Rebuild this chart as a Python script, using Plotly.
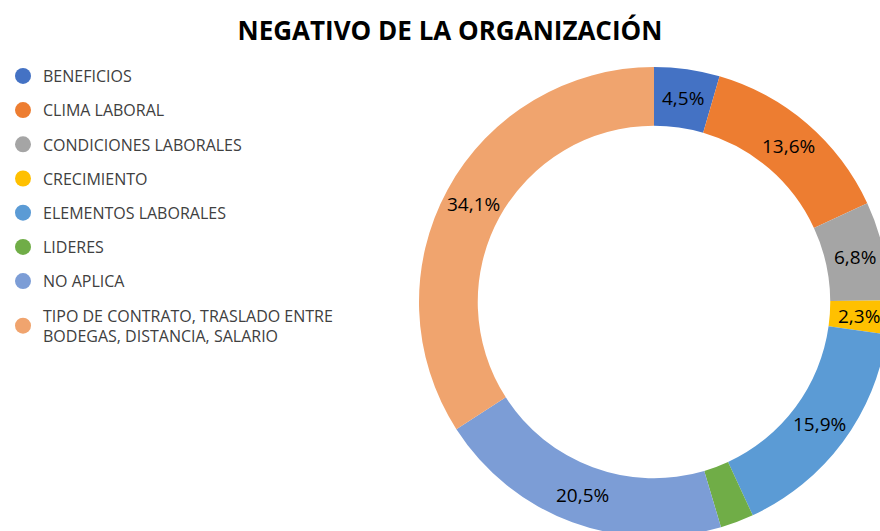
import math
import plotly.graph_objects as go

categories = ["BENEFICIOS", "CLIMA LABORAL", "CONDICIONES LABORALES", "CRECIMIENTO",
              "ELEMENTOS LABORALES", "LIDERES", "NO APLICA",
              "TIPO DE CONTRATO, TRASLADO ENTRE<br>BODEGAS, DISTANCIA, SALARIO"]
values = [4.5, 13.6, 6.8, 2.3, 15.9, 2.3, 20.5, 34.1]
show_label = [True, True, True, True, True, False, True, True]
colors = ["#4472C4", "#ED7D31", "#A5A5A5", "#FFC000", "#5B9BD5", "#70AD47", "#7C9DD6", "#F0A46E"]

W, H = 900, 550
cx, cy, R = 654, 302, 235
HOLE = 0.75
LABEL_FONT = dict(size=19, color="#000000", family="Open Sans")

fig = go.Figure()
fig.add_trace(go.Pie(
    labels=categories, values=values, sort=False, direction="clockwise", rotation=0,
    hole=HOLE, marker=dict(colors=colors, line=dict(width=0)),
    textinfo="none", showlegend=False,
    domain=dict(x=[(cx - R) / W, (cx + R) / W], y=[(H - cy - R) / H, (H - cy + R) / H]),
))

# data labels at the middle of each ring segment (as in the original)
total = sum(values)
cum = 0.0
rm = R * (1 + HOLE) / 2
for v, s in zip(values, show_label):
    if s:
        ang = 2 * math.pi * (cum + v / 2) / total
        px = cx + rm * math.sin(ang)
        py = cy - rm * math.cos(ang)
        fig.add_annotation(x=px / W, y=1 - py / H, xref="paper", yref="paper",
                           text=f"{v:.1f}%".replace(".", ","), showarrow=False,
                           xanchor="center", yanchor="middle", font=LABEL_FONT)
    cum += v

for i, (c, col) in enumerate(zip(categories, colors)):
    fig.add_trace(go.Scatter(
        x=[None], y=[None], mode="markers", name=c, legendgroup=str(i),
        marker=dict(symbol="circle", size=18, color=col),
    ))

fig.update_layout(
    width=W, height=H, margin=dict(l=0, r=0, t=0, b=0),
    paper_bgcolor="white", plot_bgcolor="white",
    title=dict(text="<b>NEGATIVO DE LA ORGANIZACIÓN</b>", x=450 / W, xanchor="center",
               y=1 - 31 / H, yanchor="middle",
               font=dict(size=26, color="#000000", family="Open Sans")),
    xaxis=dict(visible=False), yaxis=dict(visible=False),
    legend=dict(x=3 / W, y=1 - 59 / H, xanchor="left", yanchor="top",
                font=dict(size=16, color="#404040", family="Open Sans"),
                traceorder="grouped", tracegroupgap=10.4, bgcolor="rgba(0,0,0,0)"),
)

fig.write_html("out.html", config={"displayModeBar": False}, post_script=(
    "document.body.style.margin='0';document.body.style.overflow='hidden';"
    "document.documentElement.style.overflow='hidden';"))
